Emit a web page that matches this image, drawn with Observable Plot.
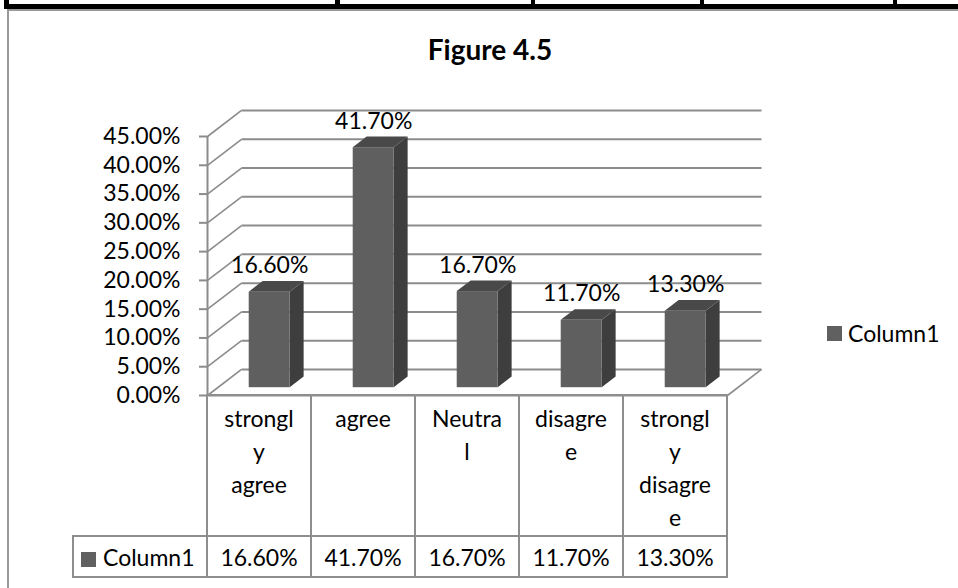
<!DOCTYPE html>
<html><head><meta charset="utf-8">
<script src="https://cdn.jsdelivr.net/npm/d3@7"></script>
<script src="https://cdn.jsdelivr.net/npm/@observablehq/plot@0.6"></script>
<style>
html,body{margin:0;padding:0;background:#fff;}
#wrap{position:relative;width:958px;height:588px;overflow:hidden;font-family:Lato,"Noto Sans",sans-serif;color:#000;}
#wrap svg{position:absolute;left:0;top:0;overflow:visible;}
.blk{position:absolute;background:#000;}
.gry{position:absolute;background:#999;}
#title{position:absolute;left:0;top:32px;width:980px;text-align:center;font-weight:bold;font-size:28px;line-height:34px;}
#legend{position:absolute;left:827px;top:319px;font-size:23px;line-height:28px;white-space:nowrap;}
#legend .sw{position:absolute;left:0;top:7px;width:15px;height:15px;background:#606060;}
#legend .lt{position:absolute;left:21px;top:0;}
table{position:absolute;left:72px;top:394px;border-collapse:collapse;table-layout:fixed;font-size:23px;}
td{border:2px solid #8e8e8e;padding:0;text-align:center;}
td.cat{height:133px;vertical-align:top;padding-top:6px;line-height:33px;white-space:pre;}
td.val{height:39px;vertical-align:middle;line-height:28px;}
td.blank{border:none;}
td.name{text-align:left;padding-left:7px;white-space:nowrap;}
td.name .sw{display:inline-block;width:15px;height:15px;background:#606060;margin-right:7px;vertical-align:-1px;}
</style></head><body><div id="wrap"></div>
<script>
// ---- data ----
const categories = ["strongly agree", "agree", "Neutral", "disagree", "strongly disagree"];
const categoryLabels = ["strongl\ny\nagree", "agree", "Neutra\nl", "disagre\ne", "strongl\ny\ndisagre\ne"];
const values = [16.6, 41.7, 16.7, 11.7, 13.3];
const seriesName = "Column1";
const yTicks = [0, 5, 10, 15, 20, 25, 30, 35, 40, 45];
const chartTitle = "Figure 4.5";

const fmt = d => d.toFixed(2) + "%";
const GRAY = "#8c8c8c";
const FRONT = "#5f5f5f", SIDE = "#3e3e3e", TOP = "#494949";

// 3D depth (in scale units)
const DX = 0.327, DY = 4.52;
const f0 = 0.3, fd = 0.41, hw = 0.197;
const ox = f0 * DX, oy = f0 * DY, bdx = fd * DX, bdy = fd * DY;

const bars = values.map((v, i) => ({i, v, xl: i + 0.5 - hw + ox, xr: i + 0.5 + hw + ox}));
const sidePts = bars.flatMap(b => [
  {i: b.i, x: b.xr, y1: oy, y2: b.v + oy},
  {i: b.i, x: b.xr + bdx, y1: oy + bdy, y2: b.v + oy + bdy}
]);
const topPts = bars.flatMap(b => [
  {i: b.i, y: b.v + oy, x1: b.xl, x2: b.xr},
  {i: b.i, y: b.v + oy + bdy, x1: b.xl + bdx, x2: b.xr + bdx}
]);

const n = categories.length;
const chart = Plot.plot({
  width: 958, height: 588,
  marginLeft: 207, marginRight: 231, marginTop: 136, marginBottom: 193,
  style: {fontFamily: "Lato, 'Noto Sans', sans-serif", fontSize: "23px", background: "transparent", color: "black"},
  x: {domain: [0, n], axis: null},
  y: {domain: [0, 45]},
  marks: [
    Plot.link(yTicks, {x1: DX, x2: n + DX, y1: d => d + DY, y2: d => d + DY, stroke: GRAY, strokeWidth: 2}),
    Plot.link(yTicks, {x1: 0, y1: d => d, x2: DX, y2: d => d + DY, stroke: GRAY, strokeWidth: 1.6}),
    Plot.link([0], {x1: n, y1: 0, x2: n + DX, y2: DY, stroke: GRAY, strokeWidth: 1.6}),
    Plot.link([0], {x1: 0, y1: 0, x2: n, y2: 0, stroke: GRAY, strokeWidth: 2}),
    Plot.ruleX([0], {y1: 0, y2: 45, stroke: GRAY, strokeWidth: 2}),
    Plot.axisY(yTicks, {tickSize: 8, tickPadding: 19, tickFormat: fmt, fontSize: 23, stroke: GRAY, strokeWidth: 2, fill: "black", label: null}),
    Plot.areaY(sidePts, {x: "x", y1: "y1", y2: "y2", z: "i", fill: SIDE}),
    Plot.areaX(topPts, {y: "y", x1: "x1", x2: "x2", z: "i", fill: TOP}),
    Plot.rect(bars, {x1: "xl", x2: "xr", y1: oy, y2: d => d.v + oy, fill: FRONT}),
    Plot.text(bars, {x: d => d.i + 0.5 + ox, y: d => d.v + oy, text: d => fmt(d.v), dy: -19, lineAnchor: "bottom", fontSize: 23, fill: "black"})
  ]
});

const wrap = document.getElementById("wrap");
// page frame
[["blk", 4, 4, 954, 5], ["blk", 4, 0, 5, 9], ["blk", 335, 0, 5, 9], ["blk", 531, 0, 4, 9], ["blk", 700, 0, 4, 9], ["blk", 893, 0, 4, 9],
 ["gry", 7, 9, 951, 2], ["gry", 7, 9, 2, 579]].forEach(([c, l, t, w, h]) => {
  const d = document.createElement("div"); d.className = c;
  Object.assign(d.style, {left: l + "px", top: t + "px", width: w + "px", height: h + "px"});
  wrap.appendChild(d);
});
wrap.appendChild(chart);

const t = document.createElement("div"); t.id = "title"; t.textContent = chartTitle; wrap.appendChild(t);

const lg = document.createElement("div"); lg.id = "legend";
lg.innerHTML = `<span class="sw"></span><span class="lt"></span>`;
lg.querySelector(".lt").textContent = seriesName;
wrap.appendChild(lg);

// data table
const tbl = document.createElement("table");
const cg = document.createElement("colgroup");
[134, ...categories.map(() => 104)].forEach(w => { const c = document.createElement("col"); c.style.width = w + "px"; cg.appendChild(c); });
tbl.appendChild(cg);
const r1 = tbl.insertRow();
const b = r1.insertCell(); b.className = "blank";
categoryLabels.forEach(l => { const c = r1.insertCell(); c.className = "cat"; c.textContent = l; });
const r2 = tbl.insertRow();
const nc = r2.insertCell(); nc.className = "val name";
nc.innerHTML = `<span class="sw"></span>`; nc.appendChild(document.createTextNode(seriesName));
values.forEach(v => { const c = r2.insertCell(); c.className = "val"; c.textContent = fmt(v); });
tbl.style.width = (134 + 104 * n) + "px";
wrap.appendChild(tbl);
</script></body></html>
